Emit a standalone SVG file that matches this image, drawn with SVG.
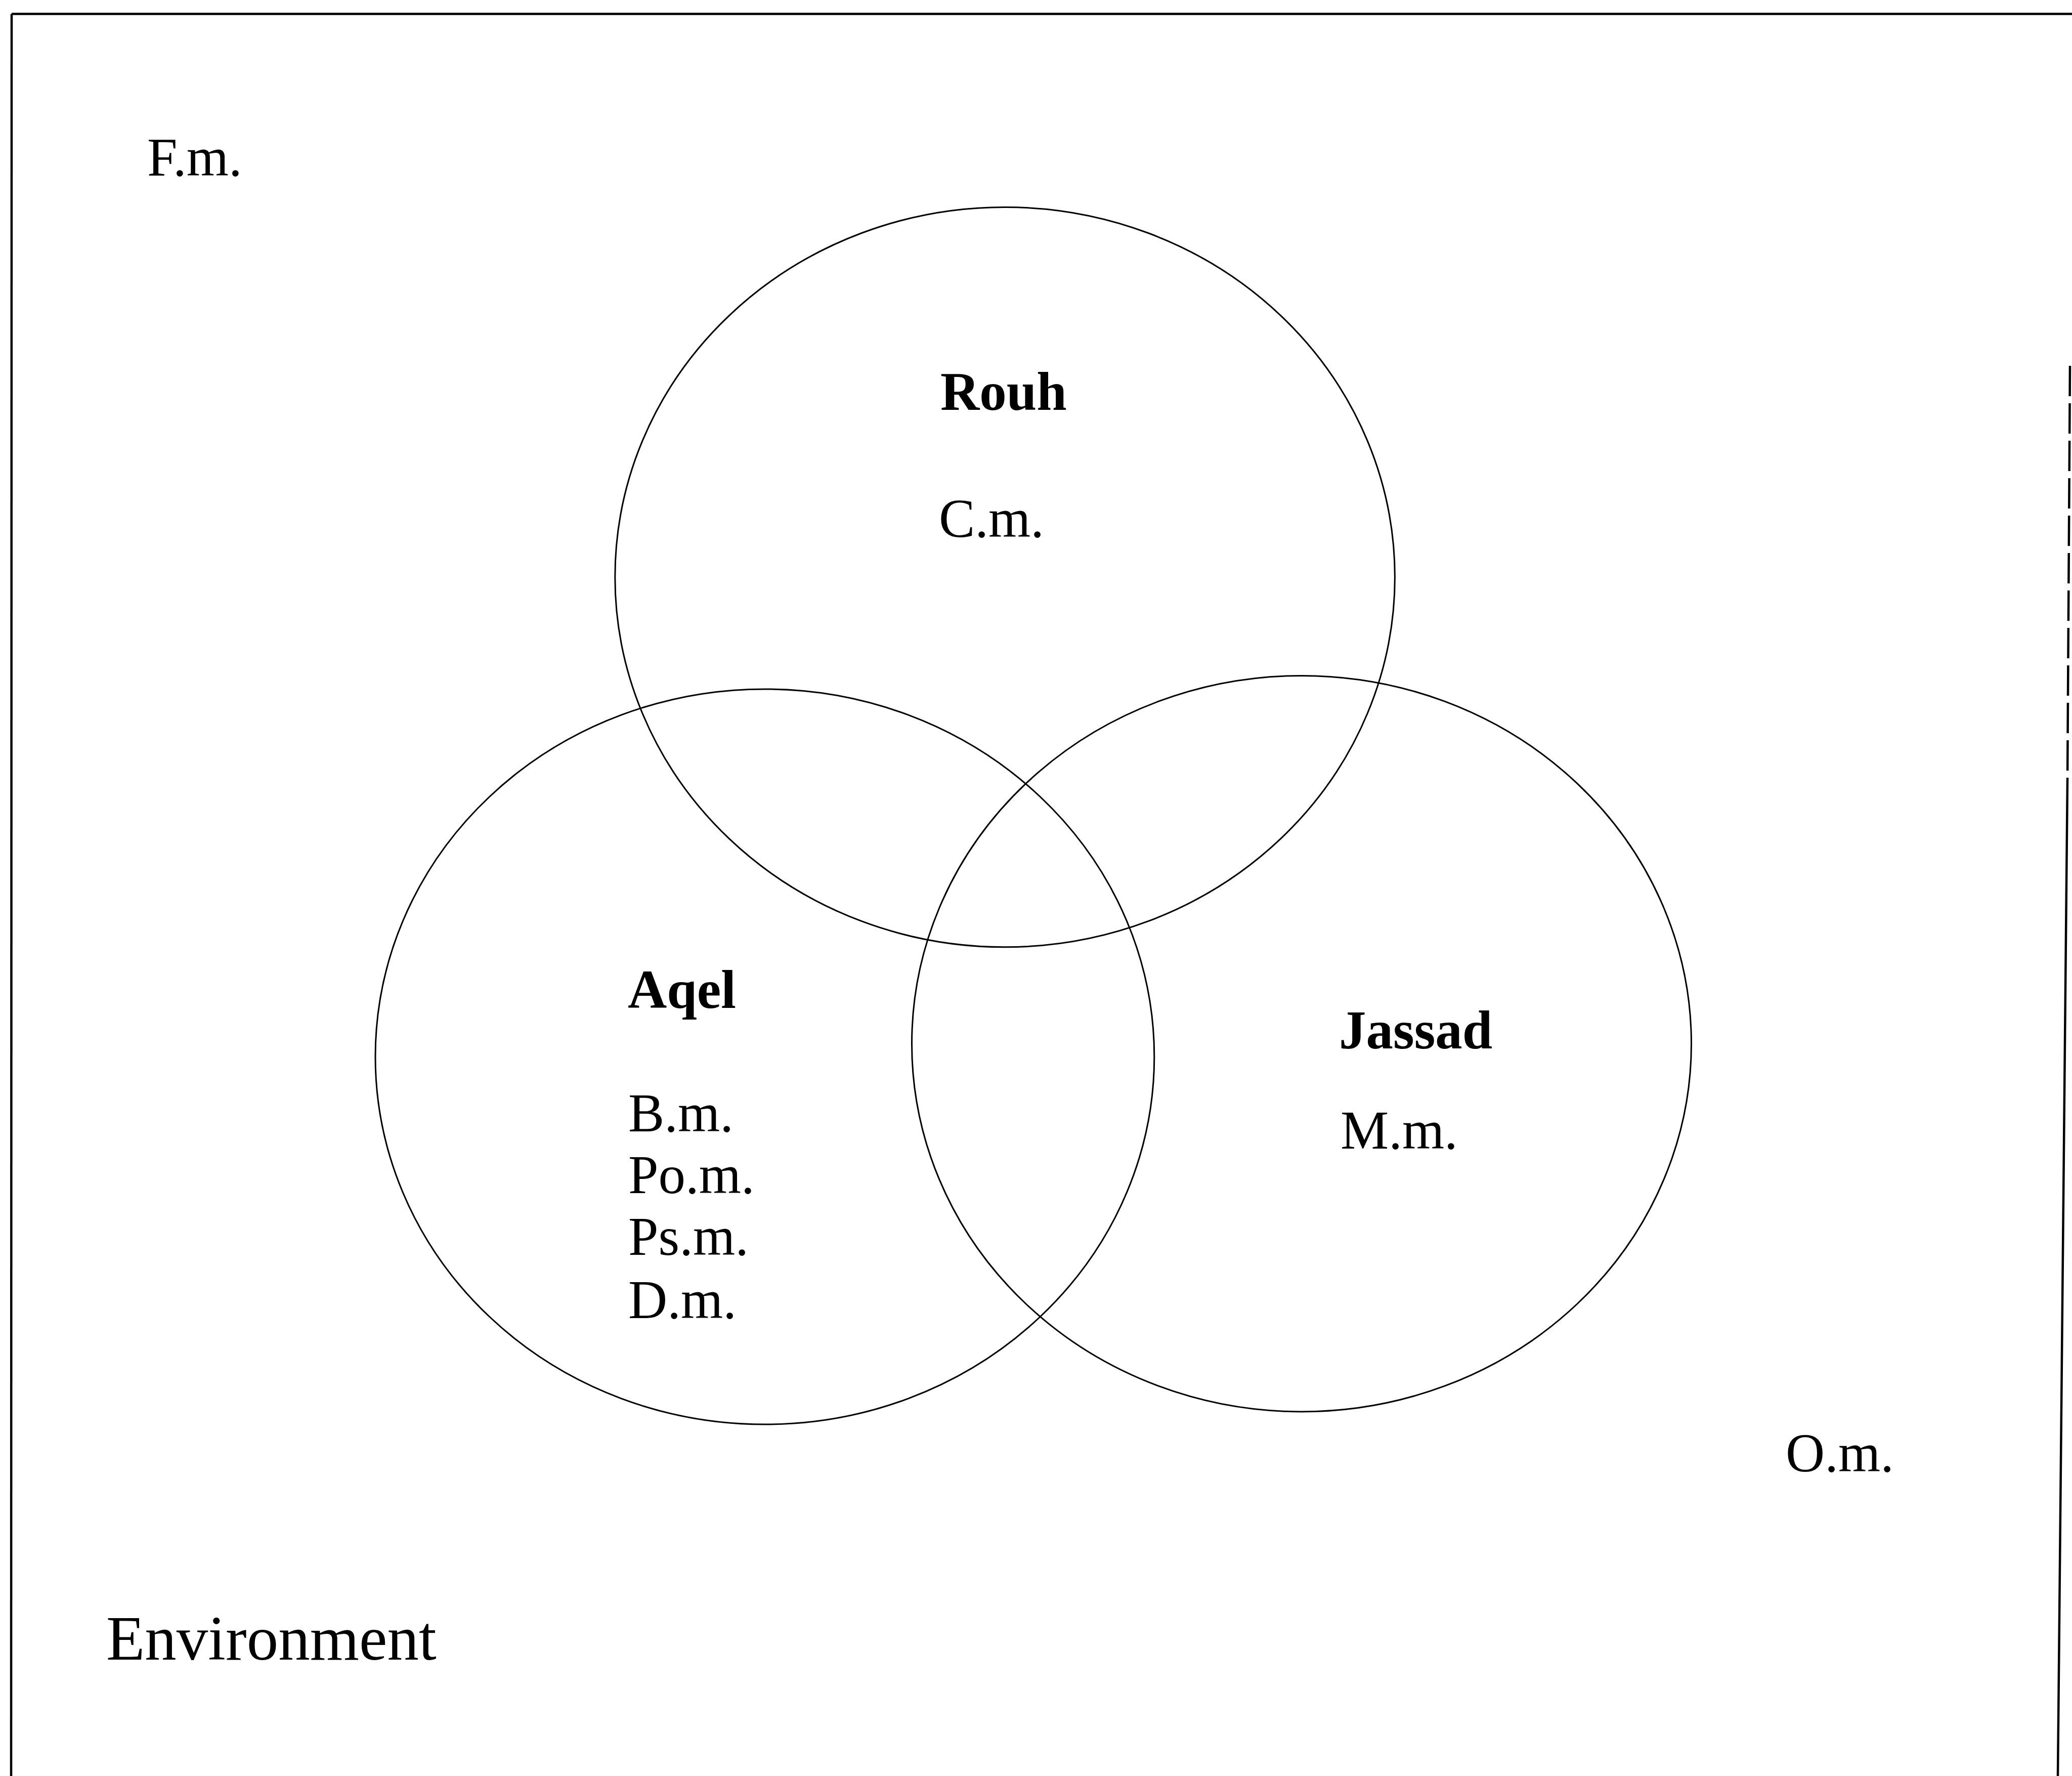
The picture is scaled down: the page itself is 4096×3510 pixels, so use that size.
<svg xmlns="http://www.w3.org/2000/svg" width="4096" height="3510" viewBox="0 0 4096 3510">
  <style>
    .frame { fill: none; stroke: #000; stroke-width: 4.5; }
    .set { fill: none; stroke: #000; stroke-width: 3; }
    .lbl { font-family: "Liberation Serif", "Times New Roman", serif; font-size: 107px; fill: #000; }
    .title { font-family: "Liberation Serif", "Times New Roman", serif; font-size: 107px; font-weight: bold; fill: #000; }
    .env { font-family: "Liberation Serif", "Times New Roman", serif; font-size: 125px; fill: #000; }
  </style>
  <rect x="0" y="0" width="4096" height="3510" fill="#fff"/>

  <g id="frame">
    <line class="frame" x1="23" y1="27.6" x2="4096" y2="27.6"/>
    <line class="frame" x1="23" y1="27.6" x2="22" y2="3510"/>
    <path class="frame" d="M4092,723 L4087,1540" stroke-dasharray="60 14" stroke-width="3.5"/>
    <path class="frame" d="M4087,1540 L4068,3510" stroke-width="3.5"/>
  </g>

  <g id="environment">
    <text class="lbl" x="291" y="347">F.m.</text>
    <text class="lbl" x="3530" y="2908">O.m.</text>
    <text class="env" x="210" y="3280">Environment</text>
  </g>

  <g id="rouh">
    <ellipse class="set" cx="1986.6" cy="1140.6" rx="770.8" ry="731.2"/>
    <text class="title" x="1859" y="809.5">Rouh</text>
    <text class="lbl" x="1856" y="1061">C.m.</text>
  </g>

  <g id="aqel">
    <ellipse class="set" cx="1511.9" cy="2088.5" rx="769.9" ry="726.6"/>
    <text class="title" x="1241" y="1991.5">Aqel</text>
    <text class="lbl" x="1242" y="2236">B.m.</text>
    <text class="lbl" x="1242" y="2358">Po.m.</text>
    <text class="lbl" x="1242" y="2480">Ps.m.</text>
    <text class="lbl" x="1242" y="2604.5">D.m.</text>
  </g>

  <g id="jassad">
    <ellipse class="set" cx="2573" cy="2062.7" rx="770.5" ry="727.3"/>
    <text class="title" x="2647" y="2072">Jassad</text>
    <text class="lbl" x="2650" y="2269.5">M.m.</text>
  </g>

  <g id="connectors"/>
</svg>
